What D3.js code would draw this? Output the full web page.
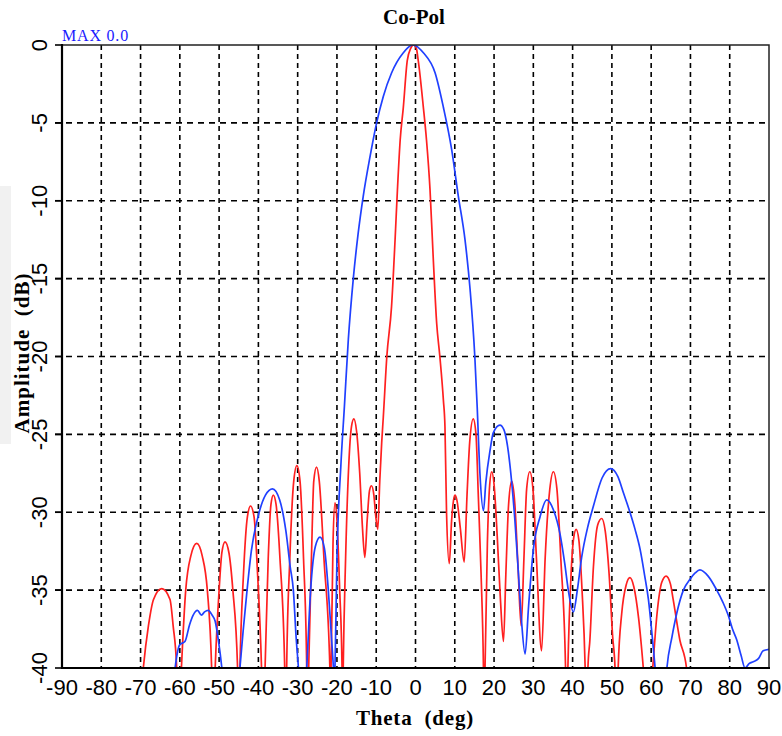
<!DOCTYPE html>
<html>
<head>
<meta charset="utf-8">
<script src="https://cdn.jsdelivr.net/npm/d3@7.9.0/dist/d3.min.js"></script>
<style>
  html, body { margin: 0; padding: 0; background: #fff; }
  svg { display: block; }
</style>
</head>
<body>
<svg id="chart" width="782" height="736"></svg>
<script>
// values (theta in deg, amplitude in dB)
const redTheta = [
  -72, -69.3, -68, -66.7, -64.6, -62.5, -61.7, -60.8, -60.3,
  -59.6, -58.5, -57.2, -55.7, -54.3, -53, -51.9, -51.5,
  -51, -50, -49.3, -48.5, -47.5, -46.5, -45.3, -45,
  -44.7, -43.8, -42.8, -42, -41.1, -40.2, -39.2, -38.8,
  -38.3, -37.5, -36.8, -36.2, -35.5, -34.5, -33.3, -33,
  -32.8, -32, -31, -30.2, -29.4, -28.5, -27.7, -27.5,
  -27.2, -26.5, -25.9, -25.2, -24.5, -23.3, -21.8, -21.65,
  -21.5, -21, -20.5, -20, -19.3, -18.7, -18.55,
  -18.4, -17.8, -17, -16.3, -15.7, -15, -14.2, -13.5, -12.9, -12.3, -11.7, -11.2, -10.6, -10.1, -9.6,
  -9.1, -8.6, -8.2, -7.3, -6.1, -5.2, -4.6, -3.9, -3.1, -2.1, -1.2, -0.5, 0.2, 0.7, 2, 2.8, 3.7, 4.5,
  5.4, 6.2, 7.1, 7.5, 7.9, 8.6, 9.2, 9.7, 10.1, 10.6, 11.4, 12.4, 13.1, 13.8, 14.7, 15.4, 16, 16.7,
  17.3, 17.5,
  17.7, 18.3, 18.9, 19.4, 20, 20.8, 21.6, 22.4, 23, 23.7, 24.5, 25.3, 26.1, 26.9, 27.6, 28.3, 29.1,
  29.9, 30.8, 32.1, 33, 34.2, 35.1, 36, 37, 38.2, 38.5,
  38.8, 39.6, 40.3, 40.9, 41.6, 42.4, 43.2, 43.55,
  43.9, 44.4, 45.3, 46.4, 47.4, 48.3, 49.3, 50.2, 50.8, 51.2,
  51.6, 52.5, 53.6, 54.6, 55.6, 56.8, 58, 59.2,
  60.4, 61.5, 62.7, 63.8, 64.9, 65.6, 67.3, 69, 70
];
const redDb = [
  -50, -40, -37.3, -35.6, -34.9, -35.6, -37.3, -40, -44,
  -40, -35, -32.8, -32.0, -32.8, -35, -40, -44,
  -40, -35, -32.6, -31.9, -32.6, -35, -40, -44,
  -40, -34, -30.3, -29.6, -30.3, -34, -40, -44,
  -40, -33, -29.5, -28.9, -29.5, -33, -40, -44,
  -40, -33, -28, -27.0, -28, -33, -40, -44,
  -40, -33, -28, -27.1, -28, -33, -40, -43,
  -40, -32, -29.4, -30.5, -35, -40, -43,
  -40, -33, -27, -24.5, -24.0, -24.8, -27.5, -31, -32.9, -30.5, -28.6, -28.3, -28.9, -30.3, -31.1,
  -28, -25.5, -23.9, -20, -16.8, -12.5, -9.3, -6.1, -4, -1, -0.2, 0, -0.2, -1, -4, -6.1, -9.3, -13.6,
  -17.9, -20, -22.8, -24.5, -30, -33.3, -30.5, -29.2, -28.9, -29.3, -31, -33.2, -29, -25.5, -24.0, -25, -29, -34,
  -40, -44,
  -40, -32, -28.2, -27.4, -28.2, -31.5, -35.5, -38.3, -34, -29.5, -28.0, -29.5, -33.5, -37.3, -33, -28.5, -27.4,
  -28.5, -33, -38.9, -33, -28.5, -27.4, -28.5, -33, -40, -44,
  -40, -34, -31.6, -31.1, -31.8, -35, -40, -44,
  -40, -38.2, -33.5, -30.8, -30.4, -31.2, -34, -38, -40, -44,
  -40, -36.5, -34.7, -34.2, -34.8, -36.8, -40, -44,
  -40, -36.5, -34.5, -34.1, -34.6, -35.6, -38.2, -40, -48
];

const blueTheta = [
  -63, -61.2, -60, -58.7, -57.5, -56.6, -55.5, -54.5, -53.7, -52.8, -51.8, -51, -50.2, -49.3, -47,
  -44.7, -43, -41.8, -39.8, -38.2, -36.4, -34.6, -33, -31.9, -31.1, -30.4, -29.8, -28.8,
  -27.7, -26.7, -25.5, -24.3, -23.2, -22.2, -21.4, -20.9, -20.7,
  -20.5, -20, -19, -18.1, -17.1, -15.8, -14.6, -13.3, -11.6, -9.9, -8.2, -6.1, -3.1, -0.7,
  2, 5, 7.1, 9.2, 10.9, 12.6, 13.9, 15.1, 15.7, 16.4, 17.3, 17.9, 19, 19.8, 21.5, 22.5, 23.2,
  24.5, 25.3, 26.2, 27, 27.9, 28.8, 30, 31.7, 33.4, 35.2, 36.8, 38, 38.9, 40.2, 41.2, 42.3,
  43.8, 45.3, 47.5, 49.7, 51.5, 53, 54.6, 55.9, 57.2, 58.3, 59.3, 60.2, 61, 62.5,
  64, 65.3, 66.5, 68.2, 69.9, 71.2, 72.4, 74.5, 76.7, 78.3, 79.6, 80.7, 81.8, 82.9, 83.9,
  85, 86, 87.3, 88.5, 90
];
const blueDb = [
  -46, -40, -38.5, -38.3, -37.2, -36.6, -36.3, -36.6, -36.4, -36.3, -36.6, -37, -38.2, -40, -48,
  -40, -35.3, -32.5, -30, -28.9, -28.5, -29.2, -31.2, -33.5, -35, -38, -40, -44,
  -40, -35, -32.2, -31.6, -32.3, -35, -38, -40, -41,
  -40, -33, -27, -23.2, -18.9, -14.9, -12.1, -9.7, -7.2, -5, -3.3, -1.8, -0.5, 0,
  -0.5, -1.8, -4, -6.7, -9.7, -12.5, -15.7, -20, -23.2, -27.5, -29.9, -28.1, -26, -24.9, -24.4, -24.7, -25.4,
  -28.1, -30.5, -33.9, -37, -39.1, -36, -32.4, -30.3, -29.2, -29.9, -31.4, -33.3, -35, -36.4, -35, -32.9,
  -31, -29.6, -27.8, -27.2, -27.7, -28.8, -30, -31.1, -32.4, -34, -35.6, -37.8, -40, -46,
  -40, -38, -36.5, -35, -34.3, -33.9, -33.7, -34.1, -35, -35.8, -36.6, -37.5, -38.2, -39.2, -40,
  -39.7, -39.6, -39.4, -38.9, -38.8
];

const xTicks = d3.range(-90, 91, 10);
const yTicks = [0, -5, -10, -15, -20, -25, -30, -35, -40];

const plotLeft = 62, plotRight = 769, plotTop = 45, plotBottom = 668;

const svg = d3.select('#chart');

const x = d3.scaleLinear().domain([-90, 90]).range([plotLeft, plotRight]);
const y = d3.scaleLinear().domain([-40, 0]).range([plotBottom, plotTop]);

// faint strip at the left edge
svg.append('rect')
  .attr('x', 0).attr('y', 186).attr('width', 11).attr('height', 258)
  .attr('fill', '#f1f1f1');

svg.append('defs').append('clipPath').attr('id', 'plot-clip')
  .append('rect')
  .attr('x', plotLeft).attr('y', plotTop)
  .attr('width', plotRight - plotLeft).attr('height', plotBottom - plotTop);

// grid
const grid = svg.append('g');
xTicks.filter(t => t > -90 && t < 90).forEach(t => {
  grid.append('line')
    .attr('x1', x(t)).attr('x2', x(t))
    .attr('y1', plotTop).attr('y2', plotBottom)
    .attr('stroke', '#000')
    .attr('stroke-width', 1.6)
    .attr('stroke-dasharray', '5,4');
});
yTicks.filter(t => t < 0 && t > -40).forEach(t => {
  grid.append('line')
    .attr('x1', plotLeft - 7).attr('x2', plotRight)
    .attr('y1', y(t)).attr('y2', y(t))
    .attr('stroke', '#000')
    .attr('stroke-width', 1.6)
    .attr('stroke-dasharray', '6,5');
});

// curves
const line = d3.line()
  .x(d => x(d[0]))
  .y(d => y(d[1]))
  .curve(d3.curveMonotoneX);

const plot = svg.append('g').attr('clip-path', 'url(#plot-clip)');

plot.append('path')
  .attr('d', line(d3.zip(redTheta, redDb)))
  .attr('fill', 'none')
  .attr('stroke', '#ff2020')
  .attr('stroke-width', 1.7);

plot.append('path')
  .attr('d', line(d3.zip(blueTheta, blueDb)))
  .attr('fill', 'none')
  .attr('stroke', '#2040ff')
  .attr('stroke-width', 1.7);

// frame
svg.append('rect')
  .attr('x', plotLeft).attr('y', plotTop)
  .attr('width', plotRight - plotLeft).attr('height', plotBottom - plotTop)
  .attr('fill', 'none')
  .attr('stroke', '#222')
  .attr('stroke-width', 1.5);
svg.append('line')
  .attr('x1', plotLeft).attr('x2', plotLeft).attr('y1', plotTop - 1).attr('y2', plotBottom + 1)
  .attr('stroke', '#000').attr('stroke-width', 2.2);
svg.append('line')
  .attr('x1', plotLeft - 1).attr('x2', plotRight + 1).attr('y1', plotBottom).attr('y2', plotBottom)
  .attr('stroke', '#000').attr('stroke-width', 2.2);

// y ticks and labels
yTicks.forEach(t => {
  svg.append('line')
    .attr('x1', plotLeft - 7).attr('x2', plotLeft)
    .attr('y1', y(t)).attr('y2', y(t))
    .attr('stroke', '#000').attr('stroke-width', 1.6);
  svg.append('text')
    .attr('transform', `translate(47,${y(t)}) rotate(-90)`)
    .attr('text-anchor', 'middle')
    .attr('font-family', 'Liberation Sans, Arial, sans-serif')
    .attr('font-size', 22)
    .attr('fill', '#000')
    .text(t);
});

// x tick labels
xTicks.forEach(t => {
  svg.append('text')
    .attr('x', x(t)).attr('y', 695)
    .attr('text-anchor', 'middle')
    .attr('font-family', 'Liberation Sans, Arial, sans-serif')
    .attr('font-size', 22)
    .attr('fill', '#000')
    .text(t);
});

// titles
svg.append('text')
  .attr('x', 414).attr('y', 24)
  .attr('text-anchor', 'middle')
  .attr('font-family', 'Liberation Serif, Times New Roman, serif')
  .attr('font-weight', 'bold')
  .attr('font-size', 21)
  .text('Co-Pol');

svg.append('text')
  .attr('x', 415).attr('y', 725)
  .attr('text-anchor', 'middle')
  .attr('font-family', 'Liberation Serif, Times New Roman, serif')
  .attr('font-weight', 'bold')
  .attr('font-size', 21)
  .attr('letter-spacing', 0.8)
  .attr('xml:space', 'preserve')
  .text('Theta  (deg)');

svg.append('text')
  .attr('transform', 'translate(29,353) rotate(-90)')
  .attr('text-anchor', 'middle')
  .attr('font-family', 'Liberation Serif, Times New Roman, serif')
  .attr('font-weight', 'bold')
  .attr('font-size', 21)
  .attr('letter-spacing', 1)
  .attr('xml:space', 'preserve')
  .text('Amplitude  (dB)');

svg.append('text')
  .attr('x', 62).attr('y', 41)
  .attr('font-family', 'Liberation Serif, Times New Roman, serif')
  .attr('font-size', 16)
  .attr('letter-spacing', 0.8)
  .attr('fill', '#1a1aff')
  .text('MAX 0.0');
</script>
</body>
</html>
